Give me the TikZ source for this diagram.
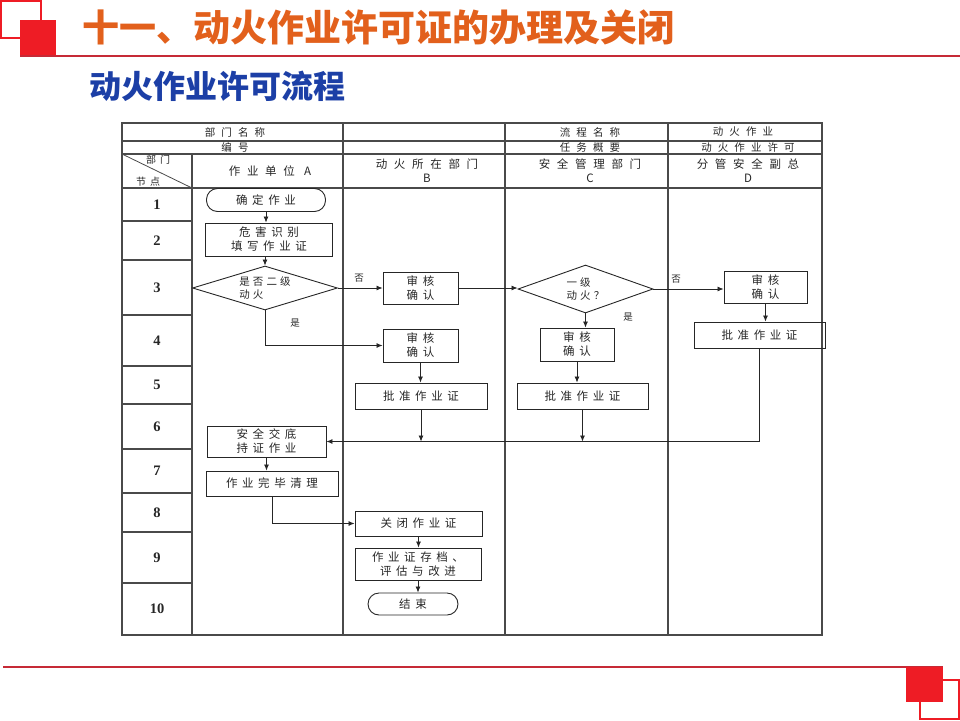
\documentclass[tikz,border=0pt]{standalone}
\usepackage{fontspec}
\setmainfont{Liberation Serif}
\newfontfamily\cjk{Noto Sans CJK SC}
\newfontfamily\cjkhead{Noto Sans CJK SC}[LetterSpace=58]
\newfontfamily\cjkbox{Noto Sans CJK SC}[LetterSpace=40]
\newfontfamily\cjkdec{Noto Sans CJK SC}[LetterSpace=30]
\usepackage{tikz}
\usetikzlibrary{arrows.meta,positioning,shapes.geometric,calc}
\definecolor{ptitle}{HTML}{E2601C}
\definecolor{psub}{HTML}{1C3FA6}
\definecolor{pred}{HTML}{EE1C25}
\definecolor{pline}{HTML}{C62A36}
\definecolor{pdark}{HTML}{262626}
\definecolor{pgrid}{HTML}{4A4A4A}

\begin{document}
\begin{tikzpicture}[x=1pt,y=-1pt,
    grid/.style={pgrid,line width=1.1pt},
    headtxt/.style={text=pdark,font=\cjkhead\fontsize{11.5}{14}\selectfont,align=center,inner sep=0pt},
    toptxt/.style={headtxt,font=\cjkhead\fontsize{10.5}{12}\selectfont},
    rownum/.style={text=pdark,font=\bfseries\fontsize{14.5}{16}\selectfont,inner sep=0pt},
    stepbox/.style={draw=pdark,line width=0.9pt,text=pdark,font=\cjkbox\fontsize{11.5}{14}\selectfont,align=center,inner sep=0pt},
    termbox/.style={stepbox,rounded corners=11pt},
    decbox/.style={stepbox,diamond,shape aspect=3.2,align=left,inner xsep=-4pt,inner ysep=-6pt,
      font=\cjkdec\fontsize{10.5}{13}\selectfont},
    flow/.style={pdark,line width=0.8pt,-{Latex[length=6pt,width=5pt]}},
    tag/.style={text=pdark,font=\cjk\fontsize{9.5}{11}\selectfont,inner sep=0pt}]
  \useasboundingbox (0,0) rectangle (960,720);

  % Slide decoration: squares and rules
  \draw[pred,line width=1.6pt] (1,1) rectangle (41,38);
  \fill[pred] (20,20) rectangle (56,56);
  \draw[pline,line width=1.4pt] (20,56) -- (960,56);
  \draw[pline,line width=2pt] (3,667) -- (943,667);
  \draw[pred,line width=1.6pt] (920,680) rectangle (959,719);
  \fill[pred] (906,667) rectangle (943,702);

  % Titles
  \node[anchor=west,inner sep=0pt,text=ptitle,font=\cjk\bfseries\fontsize{37}{40}\selectfont]
    (title) at (82,28) {十一、动火作业许可证的办理及关闭};
  \node[anchor=west,inner sep=0pt,text=psub,font=\cjk\bfseries\fontsize{32}{34}\selectfont]
    (subtitle) at (89,86) {动火作业许可流程};

  % Table frame
  \draw[grid] (122,123) rectangle (822,635);
  \foreach \y in {141,154,188}
    \draw[grid] (122,\y) -- (822,\y);
  \draw[grid] (192,154) -- (192,635);
  \foreach \x in {343,505,668}
    \draw[grid] (\x,123) -- (\x,635);
  \draw[grid,line width=0.8pt] (122,154) -- (192,188);

  % Header texts
  \node[toptxt] (deptname) at (235,132) {部门名称};
  \node[toptxt] (code) at (235,147.5) {编号};
  \node[toptxt] (procname) at (590,132) {流程名称};
  \node[toptxt] (summary) at (590,147.5) {任务概要};
  \node[toptxt] (procval) at (743,132) {动火作业};
  \node[toptxt] (sumval) at (748,147.5) {动火作业许可};
  \node[headtxt,font=\cjkbox\fontsize{10}{11}\selectfont] (deptcorner) at (158,160) {部门};
  \node[headtxt,font=\cjkbox\fontsize{10}{11}\selectfont] (nodecorner) at (148,182) {节点};
  \node[headtxt] (laneA) at (270,171) {作业单位 A};
  \node[headtxt] (laneB) at (427,171) {动火所在部门\\B};
  \node[headtxt] (laneC) at (590,171) {安全管理部门\\C};
  \node[headtxt] (laneD) at (748,171) {分管安全副总\\D};

  % Node numbers and row rules
  \foreach \n/\ya/\yb in {1/188/221,2/221/260,3/260/315,4/315/366,5/366/404,
                          6/404/449,7/449/493,8/493/532,9/532/583,10/583/635}{
    \node[rownum] (row\n) at (157,{(\ya+\yb)/2}) {\n};
    \draw[grid] (122,\yb) -- (192,\yb);
  }

  % Lane A
  \node[termbox,minimum width=119pt,minimum height=23pt] (start) at (266,200) {确定作业};
  \node[stepbox,minimum width=127pt,minimum height=33pt] (hazard) at (269,239.5) {危害识别\\填写作业证};
  \node[decbox,minimum width=145pt,minimum height=44pt] (levelA) at (265,288) {是否二级\\动火};
  \node[stepbox,minimum width=119pt,minimum height=31pt] (brief) at (266.5,441.5) {安全交底\\持证作业};
  \node[stepbox,minimum width=132pt,minimum height=25pt] (clean) at (272,483.5) {作业完毕清理};

  % Lane B
  \node[stepbox,minimum width=75pt,minimum height=32pt] (checkB) at (420.5,288) {审核\\确认};
  \node[stepbox,minimum width=75pt,minimum height=33pt] (checkBb) at (420.5,345.5) {审核\\确认};
  \node[stepbox,minimum width=132pt,minimum height=26pt] (approveB) at (421,396) {批准作业证};
  \node[stepbox,minimum width=127pt,minimum height=25pt] (closing) at (418.5,523.5) {关闭作业证};
  \node[stepbox,minimum width=126pt,minimum height=32pt] (archive) at (418,564) {作业证存档、\\评估与改进};
  \node[termbox,minimum width=90pt,minimum height=22pt] (finish) at (413,604) {结束};

  % Lane C
  \node[decbox,minimum width=135pt,minimum height=48pt] (levelC) at (585.5,289) {一级\\动火？};
  \node[stepbox,minimum width=74pt,minimum height=33pt] (checkC) at (577,344.5) {审核\\确认};
  \node[stepbox,minimum width=131pt,minimum height=26pt] (approveC) at (582.5,396) {批准作业证};

  % Lane D
  \node[stepbox,minimum width=83pt,minimum height=32pt] (checkD) at (765.5,287) {审核\\确认};
  \node[stepbox,minimum width=131pt,minimum height=26pt] (approveD) at (759.5,335) {批准作业证};

  % Connectors
  \draw[flow] (start.south) -- (start.south |- hazard.north);
  \draw[flow] (hazard.south -| levelA.north) -- (levelA.north);
  \draw[flow] (levelA.east) -- (levelA.east -| checkB.west);
  \draw[flow] (levelA.south) |- (checkBb.west);
  \draw[flow] (checkBb.south) -- (checkBb.south |- approveB.north);
  \draw[flow] (checkB.east) -- (checkB.east -| levelC.west);
  \draw[flow] (levelC.east) -- (levelC.east -| checkD.west);
  \draw[flow] (levelC.south) -- (levelC.south |- checkC.north);
  \draw[flow] (checkC.south) -- (checkC.south |- approveC.north);
  \draw[flow] (checkD.south) -- (checkD.south |- approveD.north);
  \draw[flow] (approveD.south) |- (brief.east);
  \draw[flow] (approveB.south) -- (approveB.south |- brief.east);
  \draw[flow] (approveC.south) -- (approveC.south |- brief.east);
  \draw[flow] (brief.south) -- (brief.south |- clean.north);
  \draw[flow] (clean.south) |- (closing.west);
  \draw[flow] (closing.south) -- (closing.south |- archive.north);
  \draw[flow] (archive.south) -- (archive.south |- finish.north);

  % Branch labels
  \node[tag] (noA) at (359,278) {否};
  \node[tag] (yesA) at (295,323) {是};
  \node[tag] (noC) at (676,279) {否};
  \node[tag] (yesC) at (628,317) {是};
\end{tikzpicture}
\end{document}
